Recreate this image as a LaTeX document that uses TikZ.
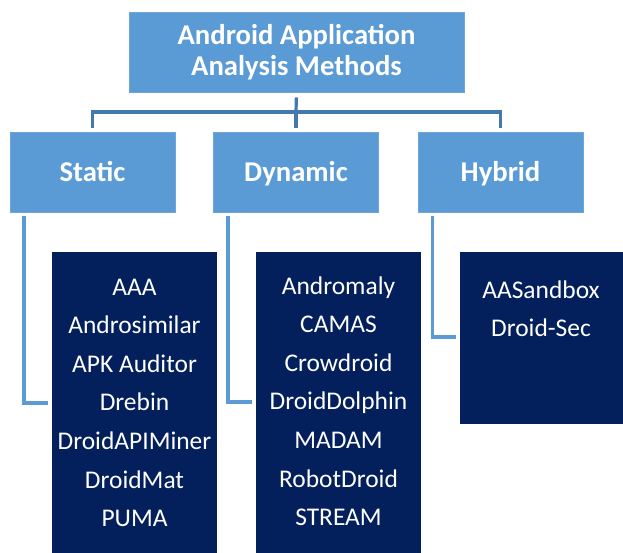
\documentclass[tikz,border=0pt]{standalone}
\usepackage{fontspec}
\setmainfont{Carlito}
\definecolor{hdr}{HTML}{5B9BD5}
\definecolor{hdrline}{HTML}{6FA6DA}
\definecolor{topline}{HTML}{4479AE}
\definecolor{leafline}{HTML}{5B9BD5}
\definecolor{leaf}{HTML}{031F5C}
\begin{document}
\begin{tikzpicture}[x=0.75pt,y=-0.75pt,
  hdrbox/.style={rectangle, fill=hdr, draw=hdrline, line width=0.6pt, text=white,
    font=\fontsize{21.5}{24}\selectfont\bfseries, inner sep=0pt,
    text height=13.8pt, text depth=0pt},
  hdrtxt/.style={text=white, font=\fontsize{21.5}{24}\selectfont\bfseries, inner sep=0pt, anchor=base},
  leafbox/.style={rectangle, fill=leaf, draw=none, inner sep=0pt, minimum width=123.75pt},
  leaftxt/.style={text=white, font=\fontsize{19.1}{22}\selectfont, inner sep=0pt, anchor=base},
  topconn/.style={draw=topline, line width=2.4pt},
  leafconn/.style={draw=leafline, line width=2.4pt}]
\useasboundingbox (0,0) rectangle (623,552);

% root
\node[hdrbox, minimum width=251.25pt, minimum height=60pt] (root) at (296.5,52) {};
\node[hdrtxt] (r1) at (296.5,45) {Android Application};
\node[hdrtxt] (r2) at (296.5,76) {Analysis Methods};

% level 2
\node[hdrbox, minimum width=123.75pt, minimum height=60pt] (static) at (92.5,172) {Static};
\node[hdrbox, minimum width=123.75pt, minimum height=60pt] (dynamic) at (296,172) {Dynamic};
\node[hdrbox, minimum width=123.75pt, minimum height=60pt] (hybrid) at (500.5,172) {Hybrid};

% top connectors
\coordinate (bus) at (296,112);
\draw[topconn, shorten <=3.75pt] (root.south) -- (bus);
\draw[topconn, shorten >=3pt] (bus) -- (dynamic.north);
\draw[topconn, shorten >=3pt] (bus) -| (static.north);
\draw[topconn, shorten >=3pt] (bus) -| (hybrid.north);

% leaf boxes
\node[leafbox, minimum height=228pt] (sleaf) at (134.5,404) {};
\node[leafbox, minimum height=228pt] (dleaf) at (338.5,404) {};
\node[leafbox, minimum height=129pt] (hleaf) at (542.5,338) {};

% leaf texts
\foreach \t [count=\i from 0] in {AAA,Androsimilar,APK Auditor,Drebin,DroidAPIMiner,DroidMat,PUMA}
  \node[leaftxt] (s\i) at (134.5,295+38.6*\i) {\t};
\foreach \t [count=\i from 0] in {Andromaly,CAMAS,Crowdroid,DroidDolphin,MADAM,RobotDroid,STREAM}
  \node[leaftxt] (d\i) at (338.5,294+38.6*\i) {\t};
\foreach \t [count=\i from 0] in {AASandbox,Droid-Sec}
  \node[leaftxt] (h\i) at (541,298+38.5*\i) {\t};

% leaf connectors
\coordinate (sc) at (24,403);
\coordinate (dc) at (228,402);
\coordinate (hc) at (432.5,337);
\draw[leafconn, shorten <=3pt, shorten >=3pt] (static.south -| sc) |- (sleaf.west |- sc);
\draw[leafconn, shorten <=3pt, shorten >=3pt] (dynamic.south -| dc) |- (dleaf.west |- dc);
\draw[leafconn, shorten <=3pt, shorten >=3pt] (hybrid.south -| hc) |- (hleaf.west |- hc);
\end{tikzpicture}
\end{document}
